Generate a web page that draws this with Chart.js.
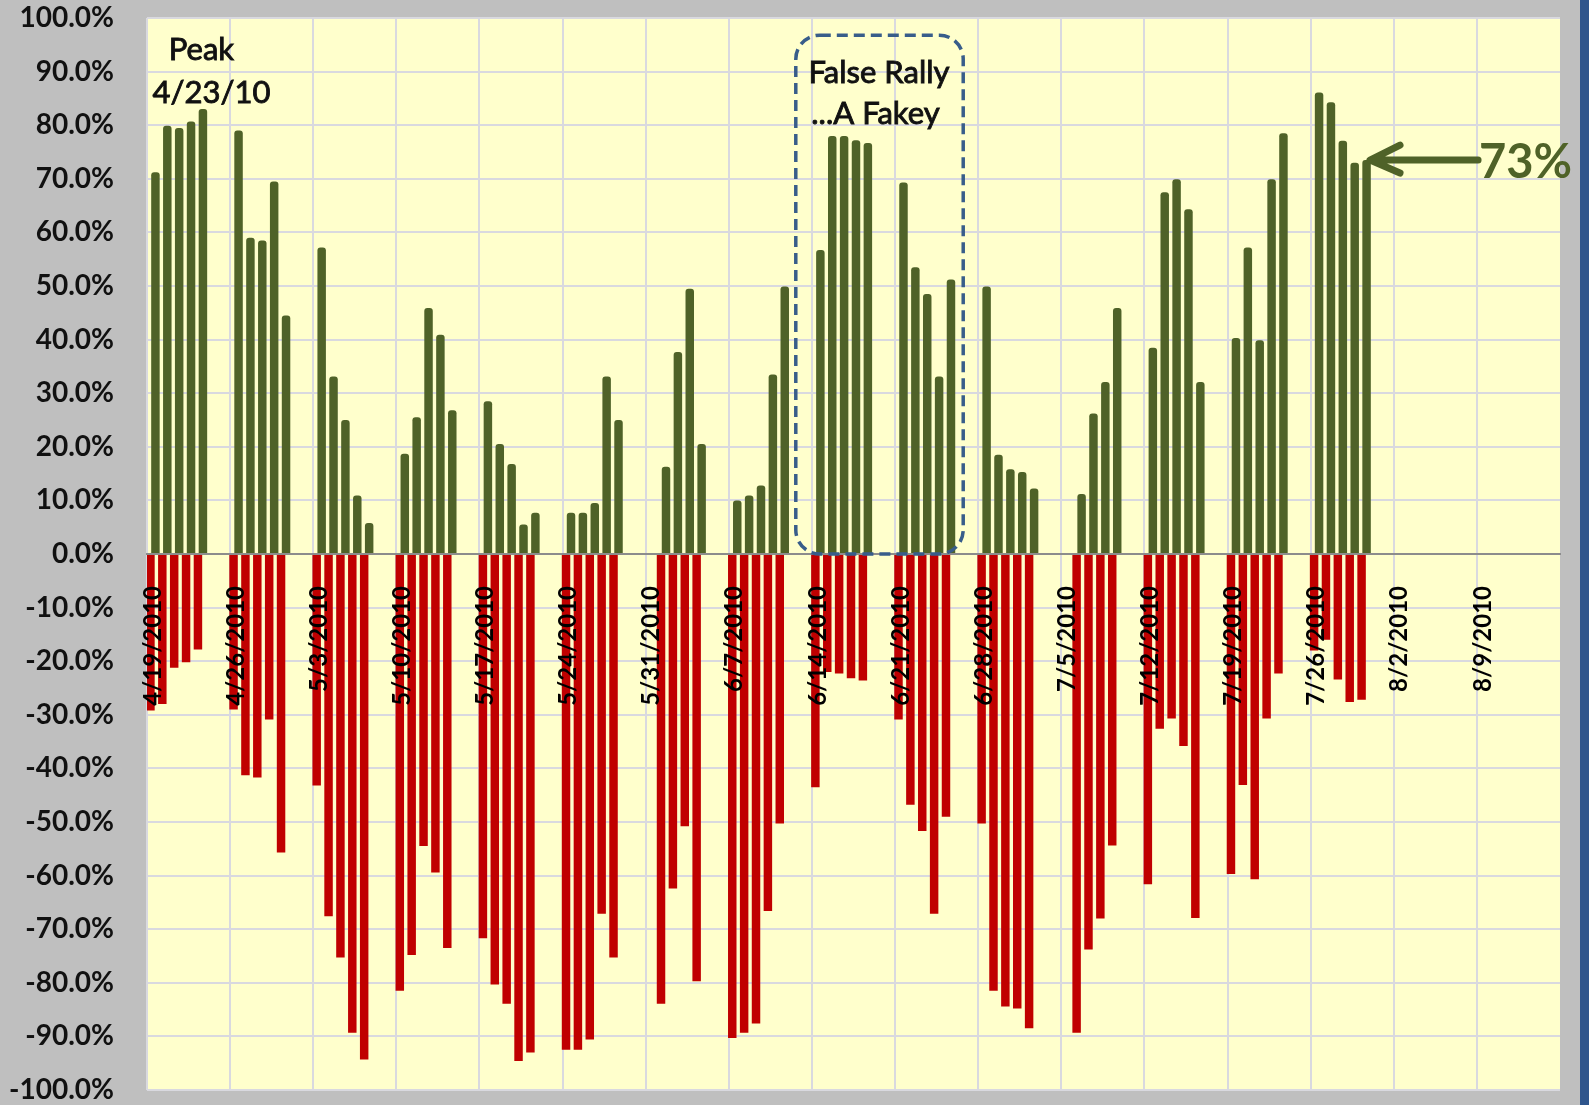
<!DOCTYPE html>
<html>
<head>
<meta charset="utf-8">
<title>Breadth</title>
<script src="https://cdn.jsdelivr.net/npm/chart.js@4.4.1/dist/chart.umd.min.js"></script>
<style>
  html, body { margin: 0; padding: 0; background: #bfbfbf; }
  #wrap { position: relative; width: 1589px; height: 1105px; }
</style>
</head>
<body>
<div id="wrap"><canvas id="breadthChart"></canvas></div>
<script>
// week start labels on the x axis (Mondays)
const weekLabels = ['4/19/2010', '4/26/2010', '5/3/2010', '5/10/2010', '5/17/2010', '5/24/2010',
  '5/31/2010', '6/7/2010', '6/14/2010', '6/21/2010', '6/28/2010', '7/5/2010', '7/12/2010',
  '7/19/2010', '7/26/2010', '8/2/2010', '8/9/2010'];

// % up, one row per week, Mon..Fri (null = market closed)
const upWeeks = [
  [71.2, 79.9, 79.5, 80.7, 83.0],
  [79.0, 59.0, 58.5, 69.5, 44.5],
  [57.2, 33.1, 25.0, 10.9, 5.8],
  [18.7, 25.5, 45.9, 40.9, 26.8],
  [28.5, 20.5, 16.8, 5.5, 7.7],
  [7.7, 7.7, 9.5, 33.1, 25.0],
  [null, 16.3, 37.7, 49.5, 20.5],
  [10.0, 10.9, 12.8, 33.5, 49.9],
  [56.7, 78.0, 78.0, 77.2, 76.7],
  [69.3, 53.5, 48.5, 33.1, 51.2],
  [49.9, 18.5, 15.8, 15.3, 12.2],
  [null, 11.2, 26.2, 32.1, 45.9],
  [38.5, 67.5, 69.9, 64.3, 32.1],
  [40.3, 57.2, 39.9, 69.9, 78.5],
  [86.1, 84.3, 77.1, 73.0, 73.5]
];

// % down, same layout
const downWeeks = [
  [-29.2, -28.0, -21.2, -20.2, -17.8],
  [-29.0, -41.3, -41.7, -30.9, -55.7],
  [-43.2, -67.6, -75.3, -89.3, -94.3],
  [-81.5, -74.8, -54.5, -59.4, -73.5],
  [-71.7, -80.3, -83.9, -94.6, -93.0],
  [-92.5, -92.5, -90.6, -67.1, -75.3],
  [null, -83.9, -62.4, -50.8, -79.7],
  [-90.3, -89.3, -87.6, -66.6, -50.3],
  [-43.5, -22.0, -22.3, -23.2, -23.6],
  [-30.9, -46.8, -51.7, -67.1, -49.0],
  [-50.3, -81.5, -84.4, -84.8, -88.5],
  [null, -89.3, -73.8, -68.0, -54.4],
  [-61.6, -32.6, -30.7, -35.8, -67.9],
  [-59.7, -43.1, -60.7, -30.7, -22.3],
  [-18.0, -16.0, -23.4, -27.6, -27.2]
];

const GREEN = '#4f6228';
const RED = '#c00000';
const GRID = '#d9d9df';

// one category per calendar day, weekends left empty
const dayLabels = [];
const upDays = [];
const downDays = [];
const start = new Date(2010, 3, 19);
weekLabels.forEach((wk, w) => {
  for (let d = 0; d < 7; d++) {
    const dt = new Date(start);
    dt.setDate(dt.getDate() + w * 7 + d);
    dayLabels.push(`${dt.getMonth() + 1}/${dt.getDate()}/${dt.getFullYear()}`);
    const onData = d < 5 && w < upWeeks.length;
    upDays.push(onData ? upWeeks[w][d] : null);
    downDays.push(onData ? downWeeks[w][d] : null);
  }
});

const backdrop = {
  id: 'backdrop',
  beforeDraw(chart) {
    const { ctx, chartArea, width, height } = chart;
    ctx.save();
    ctx.fillStyle = '#bfbfbf';
    ctx.fillRect(0, 0, width, height);
    ctx.fillStyle = '#2f558c';
    ctx.fillRect(width - 9, 0, 9, height);
    ctx.fillStyle = '#ffffcc';
    ctx.fillRect(chartArea.left, chartArea.top, chartArea.right - chartArea.left, chartArea.bottom - chartArea.top);
    ctx.restore();
  }
};

const notes = {
  id: 'notes',
  afterDraw(chart) {
    const { ctx } = chart;
    const xs = chart.scales.x;
    const ys = chart.scales.y;
    const xAt = (i) => xs.getPixelForValue(i);
    const yAt = (v) => ys.getPixelForValue(v);
    const say = (txt, x, y) => {
      ctx.fillText(txt, x, y);
      ctx.strokeText(txt, x, y);
    };
    ctx.save();

    // peak label
    ctx.fillStyle = '#111';
    ctx.strokeStyle = '#111';
    ctx.lineWidth = 0.9;
    ctx.font = '31px Lato';
    ctx.textAlign = 'center';
    ctx.textBaseline = 'alphabetic';
    say('Peak', xAt(4) + 1, yAt(92.2));
    say('4/23/10', xAt(4) + 11, yAt(84.2));
    say('False Rally', xAt(61.15), yAt(87.9));
    say('...A Fakey', xAt(60.85), yAt(80.2));

    // false rally box
    const bx0 = xAt(54.14), bx1 = xAt(68.24);
    const by0 = yAt(96.8), by1 = yAt(0);
    const r = 24;
    ctx.strokeStyle = '#385d8a';
    ctx.lineWidth = 3.5;
    ctx.setLineDash([11, 6]);
    ctx.beginPath();
    ctx.moveTo(bx0 + r, by0);
    ctx.arcTo(bx1, by0, bx1, by1, r);
    ctx.arcTo(bx1, by1, bx0, by1, r);
    ctx.arcTo(bx0, by1, bx0, by0, r);
    ctx.arcTo(bx0, by0, bx1, by0, r);
    ctx.closePath();
    ctx.stroke();
    ctx.setLineDash([]);

    // 73% arrow
    const tipX = xAt(102.5), tailX = xAt(111.6), ay = yAt(73.5);
    ctx.strokeStyle = GREEN;
    ctx.lineWidth = 7;
    ctx.lineCap = 'round';
    ctx.lineJoin = 'round';
    ctx.beginPath();
    ctx.moveTo(tailX, ay);
    ctx.lineTo(tipX + 3, ay);
    ctx.moveTo(tipX + 30, ay - 15);
    ctx.lineTo(tipX, ay);
    ctx.lineTo(tipX + 30, ay + 13);
    ctx.stroke();

    ctx.fillStyle = GREEN;
    ctx.font = 'bold 47px Lato';
    ctx.textAlign = 'left';
    ctx.fillText('73%', tailX + 1, yAt(70.1));
    ctx.restore();
  }
};

new Chart(document.getElementById('breadthChart'), {
  type: 'bar',
  data: {
    labels: dayLabels,
    datasets: [
      {
        label: 'Down',
        data: downDays,
        backgroundColor: RED,
        categoryPercentage: 0.84,
        barPercentage: 1.7
      },
      {
        label: 'Up',
        data: upDays,
        backgroundColor: GREEN,
        borderRadius: 3,
        borderSkipped: 'start',
        categoryPercentage: 0.84,
        barPercentage: 1.7
      }
    ]
  },
  options: {
    responsive: true,
    maintainAspectRatio: false,
    animation: false,
    layout: { padding: { top: 18, right: 29, bottom: 15, left: 0 } },
    plugins: {
      legend: { display: false },
      tooltip: { enabled: false }
    },
    scales: {
      x: {
        position: { y: 0 },
        offset: true,
        grid: {
          offset: true,
          drawTicks: true,
          tickLength: 32,
          tickColor: 'rgba(0,0,0,0)',
          lineWidth: 2,
          color: (c) => (c.index % 7 === 0 ? GRID : 'rgba(0,0,0,0)')
        },
        border: { display: true, color: '#8c8c8c', width: 2 },
        ticks: {
          z: 1,
          autoSkip: false,
          minRotation: 90,
          maxRotation: 90,
          padding: 0,
          color: '#000',
          font: { family: 'Lato', size: 24, weight: 'bold', lineHeight: 1 },
          callback: (val, i) => (i % 7 === 0 ? weekLabels[i / 7] : '')
        }
      },
      y: {
        min: -100,
        max: 100,
        afterFit: (scale) => { scale.width = 147; },
        grid: {
          color: GRID,
          lineWidth: 2,
          drawTicks: true,
          tickLength: 33,
          tickColor: 'rgba(0,0,0,0)'
        },
        border: { display: false },
        ticks: {
          stepSize: 10,
          padding: 0,
          color: '#111',
          font: { family: 'Lato', size: 28, weight: 'bold', lineHeight: 1 },
          callback: (v) => v.toFixed(1) + '%'
        }
      }
    }
  },
  plugins: [backdrop, notes]
});
</script>
</body>
</html>
